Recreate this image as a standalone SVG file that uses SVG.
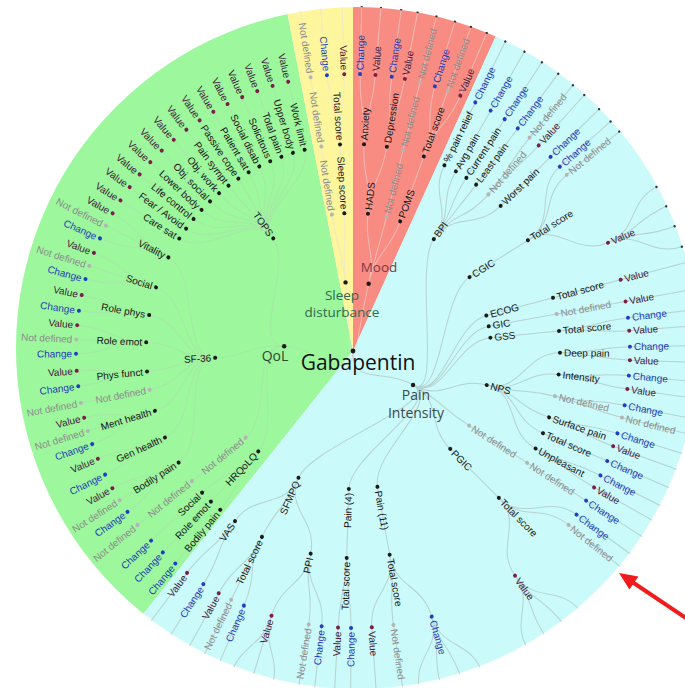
<svg xmlns="http://www.w3.org/2000/svg" xmlns:xlink="http://www.w3.org/1999/xlink" width="685" height="688" viewBox="0 0 685 688">
<defs>
<clipPath id="clipA"><circle cx="357" cy="348" r="341"/></clipPath>
<clipPath id="clipR"><circle cx="4" cy="-3" r="342"/></clipPath>
<path id="s23" d="M138,0H207"/>
<path id="s34" d="M207,0H277"/>
<path id="s45" d="M277,0H345"/>
<path id="A29" d="M207,0C242,0 241.69,-12.24 276.65,-14.01M207,0H277M207,0C242,0 241.69,12.24 276.65,14.01"/>
<path id="B18" d="M207,0C242,0 241.88,-7.6 276.86,-8.7M207,0C242,0 241.88,7.6 276.86,8.7"/>
<path id="A285" d="M207,0C242,0 241.7,-12.03 276.66,-13.77M207,0H277M207,0C242,0 241.7,12.03 276.66,13.77"/>
<path id="B16" d="M207,0C242,0 241.91,-6.76 276.89,-7.73M207,0C242,0 241.91,6.76 276.89,7.73"/>
<path id="A295" d="M207,0C242,0 241.68,-12.45 276.63,-14.25M207,0H277M207,0C242,0 241.68,12.45 276.63,14.25"/>
<path id="B165" d="M207,0C242,0 241.9,-6.97 276.89,-7.97M207,0C242,0 241.9,6.97 276.89,7.97"/>
<path id="B138" d="M207,0C242,0 241.93,-5.83 276.92,-6.67M207,0C242,0 241.93,5.83 276.92,6.67"/>
<path id="A28" d="M207,0C242,0 241.71,-11.82 276.67,-13.53M207,0H277M207,0C242,0 241.71,11.82 276.67,13.53"/>
<path id="B125" d="M207,0C242,0 241.94,-5.28 276.93,-6.04M207,0C242,0 241.94,5.28 276.93,6.04"/>
<path id="B135" d="M207,0C242,0 241.93,-5.7 276.92,-6.53M207,0C242,0 241.93,5.7 276.92,6.53"/>
<path id="B14" d="M207,0C242,0 241.93,-5.91 276.92,-6.77M207,0C242,0 241.93,5.91 276.92,6.77"/>
<path id="B13" d="M207,0C242,0 241.94,-5.49 276.93,-6.28M207,0C242,0 241.94,5.49 276.93,6.28"/>
<path id="B205" d="M207,0C242,0 241.85,-8.66 276.82,-9.91M207,0C242,0 241.85,8.66 276.82,9.91"/>
<path id="F4" d="M277,0C311,0 309.62,-29.27 343.47,-32.47M277,0C311,0 310.85,-9.77 344.83,-10.84M277,0C311,0 310.85,9.77 344.83,10.84M277,0C311,0 309.62,29.27 343.47,32.47"/>
<path id="F3" d="M277,0C311,0 310.39,-19.53 344.32,-21.66M277,0H345M277,0C311,0 310.39,19.53 344.32,21.66"/>
</defs>
<style>
text{font-family:"Liberation Sans",Arial,sans-serif;font-size:10px;dominant-baseline:central}
.L text{text-anchor:end}
.i circle{fill:#1a1a1a}.i text{fill:#161616}
.v circle{fill:#7a2048}.v text{fill:#431a3c}
.c circle{fill:#1f3fc0}.c text{fill:#1f3db5}
.n circle{fill:#b4b4b4}.n text{fill:#8c8c8c}
.lk{fill:none;stroke:#a9b6b6;stroke-width:1;stroke-opacity:.6}
.lk .faint{stroke:#b8c8b8;stroke-opacity:.3}
.lk .warm{stroke:#e8e0e0;stroke-opacity:.55}
.d1{font-family:"Open Sans","Liberation Sans",sans-serif;text-anchor:middle;dominant-baseline:alphabetic;font-size:14px}
.d5 circle{fill:#333}
</style>
<rect width="685" height="688" fill="#ffffff"/>
<g id="sectors" clip-path="url(#clipA)">
<path id="sec-qol" fill="#9df79d" d="M353,351L103.6,663.7A400,400 0 0 1 276.7,-41.7Z"/>
<path id="sec-sleep" fill="#fdf69c" d="M353,351L276.7,-41.7A400,400 0 0 1 353,-49Z"/>
<path id="sec-mood" fill="#f98c82" d="M353,351L353,-49A400,400 0 0 1 518.2,-13.3Z"/>
<path id="sec-pain" fill="#cbfafa" d="M353,351L518.2,-13.3A400,400 0 1 1 103.6,663.7Z"/>
</g>
<g id="tree" transform="translate(353,351)">
<g id="links" class="lk" clip-path="url(#clipR)">
<g id="links-qol" class="faint">
<path d="M0,0C-2.08,34.44 -34.42,-2.41 -68.83,-4.81"/>
<path transform="rotate(184)" d="M69,0C103.5,0 65.68,-79.99 87.57,-106.66M69,0C103.5,0 75.82,-70.45 101.09,-93.94M69,0C103.5,0 102.76,-12.34 137.01,-16.46M69,0C103.5,0 65.61,80.05 87.48,106.73"/>
<path transform="rotate(234.7)" d="M138,0C172.5,0 160.19,-63.99 192.23,-76.79M138,0C172.5,0 163.66,-54.52 196.39,-65.43M138,0C172.5,0 166.56,-44.87 199.88,-53.84M138,0C172.5,0 168.9,-35.05 202.68,-42.06M138,0C172.5,0 170.66,-25.12 204.79,-30.15M138,0C172.5,0 171.84,-15.11 206.2,-18.13M138,0C172.5,0 172.43,-5.04 206.91,-6.05M138,0C172.5,0 172.43,5.04 206.91,6.05M138,0C172.5,0 171.84,15.11 206.2,18.13M138,0C172.5,0 170.66,25.12 204.79,30.15M138,0C172.5,0 168.9,35.05 202.68,42.06M138,0C172.5,0 166.56,44.87 199.88,53.84M138,0C172.5,0 163.66,54.52 196.39,65.43M138,0C172.5,0 160.19,63.99 192.23,76.79"/>
<path transform="rotate(177.15)" d="M138,0C172.5,0 149.76,-85.6 179.72,-102.72M138,0C172.5,0 160.11,-64.2 192.13,-77.04M138,0C172.5,0 167.41,-41.58 200.9,-49.9M138,0C172.5,0 170.84,-23.86 205.01,-28.63M138,0C172.5,0 172.29,-8.58 206.74,-10.29M138,0C172.5,0 171.78,15.78 206.13,18.94M138,0C172.5,0 168.18,38.36 201.82,46.04M138,0C172.5,0 161.31,61.12 193.57,73.34M138,0C172.5,0 149.76,85.6 179.72,102.72"/>
<path transform="rotate(133.35)" d="M138,0C172.5,0 172.19,-10.38 206.63,-12.46M138,0H207M138,0C172.5,0 172.19,10.38 206.63,12.46"/>
<use href="#s23" transform="rotate(141.1)"/>
<use href="#s34" transform="rotate(212.925)"/><use href="#s34" transform="rotate(216.275)"/><use href="#s34" transform="rotate(219.625)"/><use href="#s34" transform="rotate(222.975)"/><use href="#s34" transform="rotate(226.325)"/><use href="#s34" transform="rotate(229.675)"/><use href="#s34" transform="rotate(233.025)"/><use href="#s34" transform="rotate(236.375)"/><use href="#s34" transform="rotate(239.725)"/><use href="#s34" transform="rotate(243.075)"/><use href="#s34" transform="rotate(246.425)"/><use href="#s34" transform="rotate(249.775)"/><use href="#s34" transform="rotate(253.125)"/><use href="#s34" transform="rotate(256.475)"/>
<use href="#s34" transform="rotate(169.2)"/><use href="#s34" transform="rotate(141.1)"/><use href="#s34" transform="rotate(129.9)"/><use href="#s34" transform="rotate(133.35)"/><use href="#s34" transform="rotate(136.8)"/>
<use href="#A29" transform="rotate(147.4)"/><use href="#B18" transform="rotate(155.3)"/><use href="#A285" transform="rotate(163.2)"/><use href="#B16" transform="rotate(174.3)"/><use href="#A295" transform="rotate(182.4)"/><use href="#B165" transform="rotate(190)"/><use href="#A285" transform="rotate(197.9)"/><use href="#A29" transform="rotate(206.9)"/>
</g>
<g id="links-sleep-mood" class="warm">
<path d="M0,0C-2.08,34.44 -3.73,-34.3 -7.45,-68.6M0,0C-2.08,34.44 7.82,-33.6 15.64,-67.2"/>
<path transform="rotate(-96.2)" d="M69,0C103.5,0 103.39,-4.69 137.86,-6.26M69,0C103.5,0 103.39,4.69 137.86,6.26"/>
<path transform="rotate(-76.9)" d="M69,0C103.5,0 102.76,-12.39 137.01,-16.52M69,0C103.5,0 103.49,1.63 137.98,2.17M69,0C103.5,0 102.75,12.43 137,16.58"/>
<path transform="rotate(-83.775)" d="M138,0C172.5,0 172.24,-9.55 206.68,-11.47M138,0C172.5,0 172.24,9.55 206.68,11.47"/>
<use href="#s23" transform="rotate(-98.8)"/><use href="#s23" transform="rotate(-93.6)"/><use href="#s23" transform="rotate(-76)"/><use href="#s23" transform="rotate(-70)"/>
<use href="#s34" transform="rotate(-98.8)"/><use href="#s34" transform="rotate(-76)"/>
<use href="#B18" transform="rotate(-93.6)"/><use href="#B16" transform="rotate(-86.95)"/><use href="#B138" transform="rotate(-80.58)"/><use href="#A28" transform="rotate(-70)"/>
<use href="#s45" transform="rotate(-98.8)"/><use href="#s45" transform="rotate(-95.4)"/><use href="#s45" transform="rotate(-91.8)"/><use href="#s45" transform="rotate(-88.55)"/><use href="#s45" transform="rotate(-85.35)"/><use href="#s45" transform="rotate(-81.96)"/><use href="#s45" transform="rotate(-79.2)"/><use href="#s45" transform="rotate(-76)"/><use href="#s45" transform="rotate(-72.8)"/><use href="#s45" transform="rotate(-70)"/><use href="#s45" transform="rotate(-67.2)"/>
</g>
<g id="links-pain">
<path d="M0,0C-2.08,34.44 30.03,16.99 60.05,33.98"/>
<path transform="rotate(29.5)" d="M69,0C103.5,0 11.45,-102.87 15.26,-137.15M69,0C103.5,0 48.83,-91.26 65.11,-121.68M69,0C103.5,0 73.95,-72.41 98.6,-96.55M69,0C103.5,0 79.52,-66.25 106.02,-88.34M69,0C103.5,0 84.73,-59.44 112.97,-79.25M69,0C103.5,0 99.88,-27.14 133.17,-36.18M69,0C103.5,0 103.34,5.78 137.78,7.7M69,0C103.5,0 99.64,28.01 132.85,37.34M69,0C103.5,0 66.17,79.59 88.22,106.12M69,0C103.5,0 48.19,91.6 64.25,122.13M69,0C103.5,0 11.22,102.89 14.96,137.19"/>
<path transform="rotate(-54.15)" d="M138,0C172.5,0 170.06,-28.92 204.07,-34.7M138,0C172.5,0 171.54,-18.18 205.85,-21.82M138,0C172.5,0 172.32,-7.97 206.78,-9.57M138,0C172.5,0 172.49,1.96 206.99,2.35M138,0C172.5,0 171.84,15.04 206.21,18.04M138,0C172.5,0 170.06,28.92 204.07,34.7"/>
<path transform="rotate(14.3)" d="M138,0C172.5,0 167.52,-41.15 201.02,-49.38M138,0C172.5,0 170.9,-23.41 205.09,-28.09M138,0C172.5,0 172.42,-5.12 206.91,-6.14M138,0C172.5,0 171.99,13.23 206.39,15.88M138,0C172.5,0 170.33,27.28 204.4,32.73M138,0C172.5,0 167.52,41.15 201.02,49.38"/>
<path transform="rotate(113.275)" d="M138,0C172.5,0 169.05,-34.32 202.86,-41.18M138,0C172.5,0 172.29,8.5 206.75,10.2M138,0C172.5,0 169.05,34.32 202.86,41.18"/>
<use href="#s23" transform="rotate(-32.35)"/><use href="#s23" transform="rotate(-14.9)"/><use href="#s23" transform="rotate(-10.3)"/><use href="#s23" transform="rotate(-5.55)"/><use href="#s23" transform="rotate(32.7)"/><use href="#s23" transform="rotate(45.2)"/><use href="#s23" transform="rotate(79.8)"/><use href="#s23" transform="rotate(91.75)"/>
<use href="#s34" transform="rotate(-63.8)"/><use href="#s34" transform="rotate(-60.2)"/><use href="#s34" transform="rotate(-56.8)"/><use href="#s34" transform="rotate(-53.5)"/><use href="#s34" transform="rotate(-44.5)"/><use href="#s34" transform="rotate(-14.9)"/><use href="#s34" transform="rotate(-10.3)"/><use href="#s34" transform="rotate(23.4)"/><use href="#s34" transform="rotate(32.7)"/>
<use href="#B125" transform="rotate(-49.15)"/>
<path transform="rotate(-32.35)" d="M207,0C242,0 238.78,-39.32 273.32,-45M207,0C242,0 240.12,-30.12 274.85,-34.48M207,0C242,0 238.78,39.32 273.32,45"/>
<use href="#B135" transform="rotate(-5.55)"/><use href="#B14" transform="rotate(0.5)"/><use href="#B14" transform="rotate(6.5)"/><use href="#B13" transform="rotate(12.6)"/><use href="#B14" transform="rotate(18.7)"/><use href="#B14" transform="rotate(28.1)"/>
<path transform="rotate(45.2)" d="M207,0C242,0 239.02,-37.86 273.59,-43.33M207,0C242,0 240.54,-26.55 275.33,-30.39M207,0C242,0 239.02,37.86 273.59,43.33"/>
<path transform="rotate(79.8)" d="M207,0C242,0 240.54,-26.55 275.33,-30.39M207,0C242,0 241.88,7.6 276.86,8.7M207,0C242,0 240.54,26.55 275.33,30.39"/>
<use href="#B135" transform="rotate(91.75)"/>
<path transform="rotate(101.8)" d="M207,0C242,0 240.96,-22.35 275.81,-25.59M207,0C242,0 241.75,-10.98 276.71,-12.56M207,0C242,0 240.96,22.35 275.81,25.59"/>
<use href="#A29" transform="rotate(116.1)"/><use href="#B205" transform="rotate(124.75)"/>
<use href="#s45" transform="rotate(-63.8)"/><use href="#s45" transform="rotate(-60.2)"/><use href="#s45" transform="rotate(-56.8)"/><use href="#s45" transform="rotate(-53.5)"/><use href="#s45" transform="rotate(-50.4)"/><use href="#s45" transform="rotate(-47.9)"/><use href="#s45" transform="rotate(-44.5)"/><use href="#s45" transform="rotate(-41.7)"/><use href="#s45" transform="rotate(-39.5)"/><use href="#F4" transform="rotate(-23)"/><use href="#s45" transform="rotate(-14.9)"/><use href="#s45" transform="rotate(-10.3)"/><use href="#s45" transform="rotate(-6.9)"/><use href="#s45" transform="rotate(-4.2)"/><use href="#s45" transform="rotate(-0.9)"/><use href="#s45" transform="rotate(1.9)"/><use href="#s45" transform="rotate(5.1)"/><use href="#s45" transform="rotate(7.9)"/><use href="#s45" transform="rotate(11.3)"/><use href="#s45" transform="rotate(13.9)"/><use href="#s45" transform="rotate(17.3)"/><use href="#s45" transform="rotate(20.1)"/><use href="#s45" transform="rotate(23.4)"/><use href="#s45" transform="rotate(26.7)"/><use href="#s45" transform="rotate(29.5)"/><use href="#s45" transform="rotate(32.7)"/><use href="#s45" transform="rotate(36.2)"/><use href="#s45" transform="rotate(38.9)"/><use href="#F4" transform="rotate(54.2)"/><use href="#F4" transform="rotate(73.5)"/><use href="#s45" transform="rotate(81.6)"/><use href="#s45" transform="rotate(86.1)"/><use href="#s45" transform="rotate(90.4)"/><use href="#s45" transform="rotate(93.1)"/><use href="#s45" transform="rotate(96.5)"/><use href="#s45" transform="rotate(99.2)"/><use href="#F3" transform="rotate(107.1)"/><use href="#s45" transform="rotate(113.2)"/><use href="#s45" transform="rotate(116.1)"/><use href="#s45" transform="rotate(119)"/><use href="#s45" transform="rotate(122.7)"/><use href="#s45" transform="rotate(126.8)"/>
</g>
</g>
<g id="rim-nodes" class="d5" clip-path="url(#clipR)">
<circle transform="rotate(-88.55)" cx="345" r="1.2"/><circle transform="rotate(-85.35)" cx="345" r="1.2"/><circle transform="rotate(-81.96)" cx="345" r="1.2"/><circle transform="rotate(-79.2)" cx="345" r="1.2"/><circle transform="rotate(-76)" cx="345" r="1.2"/><circle transform="rotate(-72.8)" cx="345" r="1.2"/><circle transform="rotate(-70)" cx="345" r="1.2"/><circle transform="rotate(-67.2)" cx="345" r="1.2"/><circle transform="rotate(-63.8)" cx="345" r="1.2"/><circle transform="rotate(-60.2)" cx="345" r="1.2"/><circle transform="rotate(-56.8)" cx="345" r="1.2"/><circle transform="rotate(-53.5)" cx="345" r="1.2"/><circle transform="rotate(-50.4)" cx="345" r="1.2"/><circle transform="rotate(-47.9)" cx="345" r="1.2"/><circle transform="rotate(-44.5)" cx="345" r="1.2"/><circle transform="rotate(-41.7)" cx="345" r="1.2"/><circle transform="rotate(-39.5)" cx="345" r="1.2"/><circle transform="rotate(-28.4)" cx="345" r="1.2"/><circle transform="rotate(-24.8)" cx="345" r="1.2"/><circle transform="rotate(-21.2)" cx="345" r="1.2"/><circle transform="rotate(-17.6)" cx="345" r="1.2"/><circle transform="rotate(-14.9)" cx="345" r="1.2"/><circle transform="rotate(-10.3)" cx="345" r="1.2"/>
</g>
<g id="n-root" class="i"><circle r="2.4"/><text class="d1" x="5" y="19" style="font-size:21px;fill:#111">Gabapentin</text></g>
<g id="n-qol" class="i"><circle cx="-68.83" cy="-4.81" r="2.2"/><text class="d1" x="-78" y="10" style="fill:#2c4a30">QoL</text></g>
<g id="n-sleep" class="i"><circle cx="-7.45" cy="-68.6" r="2.2"/><text class="d1" x="-11" y="-51" style="fill:#2e6a50;font-size:13.5px">Sleep</text><text class="d1" x="-11" y="-34" style="fill:#2e6a50;font-size:13.5px">disturbance</text></g>
<g id="n-mood" class="i"><circle cx="15.64" cy="-67.2" r="2.2"/><text class="d1" x="26" y="-79" style="fill:#7a3a4c;font-size:13.5px">Mood</text></g>
<g id="n-pain" class="i"><circle cx="60.05" cy="33.98" r="2.2"/><text class="d1" x="63" y="49" style="fill:#3c4a4c">Pain</text><text class="d1" x="63" y="67" style="fill:#3c4a4c">Intensity</text></g>
<g id="n-hrqolq" class="i L" transform="rotate(133.35)translate(138)"><circle r="2"/><text x="-4" transform="rotate(180)">HRQoLQ</text></g>
<g id="n-qol-nd" class="n L" transform="rotate(141.1)translate(138)"><circle r="2"/><text x="-4" transform="rotate(180)">Not defined</text></g>
<g id="n-sf36" class="i L" transform="rotate(177.15)translate(138)"><circle r="2"/><text x="-4" transform="rotate(180)">SF-36</text></g>
<g id="n-tops" class="i L" transform="rotate(234.7)translate(138)"><circle r="2"/><text x="-4" transform="rotate(180)">TOPS</text></g>
<g id="n-sleep-nd" class="n L" transform="rotate(-98.8)translate(138)"><circle r="2"/><text x="-4" transform="rotate(180)">Not defined</text></g>
<g id="n-sleepscore" class="i L" transform="rotate(-93.6)translate(138)"><circle r="2"/><text x="-4" transform="rotate(180)">Sleep score</text></g>
<g id="n-hads" class="i" transform="rotate(-83.775)translate(138)"><circle r="2"/><text x="4">HADS</text></g>
<g id="n-mood-nd" class="n" transform="rotate(-76)translate(138)"><circle r="2"/><text x="4">Not defined</text></g>
<g id="n-poms" class="i" transform="rotate(-70)translate(138)"><circle r="2"/><text x="4">POMS</text></g>
<g id="n-bpi" class="i" transform="rotate(-54.15)translate(138)"><circle r="2"/><text x="4">BPI</text></g>
<g id="n-cgic" class="i" transform="rotate(-32.35)translate(138)"><circle r="2"/><text x="4">CGIC</text></g>
<g id="n-ecog" class="i" transform="rotate(-14.9)translate(138)"><circle r="2"/><text x="4">ECOG</text></g>
<g id="n-gic" class="i" transform="rotate(-10.3)translate(138)"><circle r="2"/><text x="4">GIC</text></g>
<g id="n-gss" class="i" transform="rotate(-5.55)translate(138)"><circle r="2"/><text x="4">GSS</text></g>
<g id="n-nps" class="i" transform="rotate(14.3)translate(138)"><circle r="2"/><text x="4">NPS</text></g>
<g id="n-pain-nd" class="n" transform="rotate(32.7)translate(138)"><circle r="2"/><text x="4">Not defined</text></g>
<g id="n-pgic" class="i" transform="rotate(45.2)translate(138)"><circle r="2"/><text x="4">PGIC</text></g>
<g id="n-pain11" class="i" transform="rotate(79.8)translate(138)"><circle r="2"/><text x="4">Pain (11)</text></g>
<g id="n-pain4" class="i L" transform="rotate(91.75)translate(138)"><circle r="2"/><text x="-4" transform="rotate(180)">Pain (4)</text></g>
<g id="n-sfmpq" class="i L" transform="rotate(113.275)translate(138)"><circle r="2"/><text x="-4" transform="rotate(180)">SFMPQ</text></g>
<g id="n-tops-1" class="i L" transform="rotate(212.925)translate(207)"><circle r="2"/><text x="-4" transform="rotate(180)">Care sat</text></g>
<g id="n-tops-2" class="i L" transform="rotate(216.275)translate(207)"><circle r="2"/><text x="-4" transform="rotate(180)">Fear / Avoid</text></g>
<g id="n-tops-3" class="i L" transform="rotate(219.625)translate(207)"><circle r="2"/><text x="-4" transform="rotate(180)">Life control</text></g>
<g id="n-tops-4" class="i L" transform="rotate(222.975)translate(207)"><circle r="2"/><text x="-4" transform="rotate(180)">Lower body</text></g>
<g id="n-tops-5" class="i L" transform="rotate(226.325)translate(207)"><circle r="2"/><text x="-4" transform="rotate(180)">Obj. social</text></g>
<g id="n-tops-6" class="i L" transform="rotate(229.675)translate(207)"><circle r="2"/><text x="-4" transform="rotate(180)">Obj. work</text></g>
<g id="n-tops-7" class="i L" transform="rotate(233.025)translate(207)"><circle r="2"/><text x="-4" transform="rotate(180)">Pain sympt</text></g>
<g id="n-tops-8" class="i L" transform="rotate(236.375)translate(207)"><circle r="2"/><text x="-4" transform="rotate(180)">Passive cope</text></g>
<g id="n-tops-9" class="i L" transform="rotate(239.725)translate(207)"><circle r="2"/><text x="-4" transform="rotate(180)">Patient sat</text></g>
<g id="n-tops-10" class="i L" transform="rotate(243.075)translate(207)"><circle r="2"/><text x="-4" transform="rotate(180)">Social disab</text></g>
<g id="n-tops-11" class="i L" transform="rotate(246.425)translate(207)"><circle r="2"/><text x="-4" transform="rotate(180)">Solicitous</text></g>
<g id="n-tops-12" class="i L" transform="rotate(249.775)translate(207)"><circle r="2"/><text x="-4" transform="rotate(180)">Total pain</text></g>
<g id="n-tops-13" class="i L" transform="rotate(253.125)translate(207)"><circle r="2"/><text x="-4" transform="rotate(180)">Upper body</text></g>
<g id="n-tops-14" class="i L" transform="rotate(256.475)translate(207)"><circle r="2"/><text x="-4" transform="rotate(180)">Work limit</text></g>
<g id="n-tops-1v" class="v L" transform="rotate(212.925)translate(277)"><circle r="2"/><text x="-4" transform="rotate(180)">Value</text></g>
<g id="n-tops-2v" class="v L" transform="rotate(216.275)translate(277)"><circle r="2"/><text x="-4" transform="rotate(180)">Value</text></g>
<g id="n-tops-3v" class="v L" transform="rotate(219.625)translate(277)"><circle r="2"/><text x="-4" transform="rotate(180)">Value</text></g>
<g id="n-tops-4v" class="v L" transform="rotate(222.975)translate(277)"><circle r="2"/><text x="-4" transform="rotate(180)">Value</text></g>
<g id="n-tops-5v" class="v L" transform="rotate(226.325)translate(277)"><circle r="2"/><text x="-4" transform="rotate(180)">Value</text></g>
<g id="n-tops-6v" class="v L" transform="rotate(229.675)translate(277)"><circle r="2"/><text x="-4" transform="rotate(180)">Value</text></g>
<g id="n-tops-7v" class="v L" transform="rotate(233.025)translate(277)"><circle r="2"/><text x="-4" transform="rotate(180)">Value</text></g>
<g id="n-tops-8v" class="v L" transform="rotate(236.375)translate(277)"><circle r="2"/><text x="-4" transform="rotate(180)">Value</text></g>
<g id="n-tops-9v" class="v L" transform="rotate(239.725)translate(277)"><circle r="2"/><text x="-4" transform="rotate(180)">Value</text></g>
<g id="n-tops-10v" class="v L" transform="rotate(243.075)translate(277)"><circle r="2"/><text x="-4" transform="rotate(180)">Value</text></g>
<g id="n-tops-11v" class="v L" transform="rotate(246.425)translate(277)"><circle r="2"/><text x="-4" transform="rotate(180)">Value</text></g>
<g id="n-tops-12v" class="v L" transform="rotate(249.775)translate(277)"><circle r="2"/><text x="-4" transform="rotate(180)">Value</text></g>
<g id="n-tops-13v" class="v L" transform="rotate(253.125)translate(277)"><circle r="2"/><text x="-4" transform="rotate(180)">Value</text></g>
<g id="n-tops-14v" class="v L" transform="rotate(256.475)translate(277)"><circle r="2"/><text x="-4" transform="rotate(180)">Value</text></g>
<g id="n-sf-bp" class="i L" transform="rotate(147.4)translate(207)"><circle r="2"/><text x="-4" transform="rotate(180)">Bodily pain</text></g>
<g id="n-sf-gh" class="i L" transform="rotate(155.3)translate(207)"><circle r="2"/><text x="-4" transform="rotate(180)">Gen health</text></g>
<g id="n-sf-mh" class="i L" transform="rotate(163.2)translate(207)"><circle r="2"/><text x="-4" transform="rotate(180)">Ment health</text></g>
<g id="n-sf-nd" class="n L" transform="rotate(169.2)translate(207)"><circle r="2"/><text x="-4" transform="rotate(180)">Not defined</text></g>
<g id="n-sf-pf" class="i L" transform="rotate(174.3)translate(207)"><circle r="2"/><text x="-4" transform="rotate(180)">Phys funct</text></g>
<g id="n-sf-re" class="i L" transform="rotate(182.4)translate(207)"><circle r="2"/><text x="-4" transform="rotate(180)">Role emot</text></g>
<g id="n-sf-rp" class="i L" transform="rotate(190)translate(207)"><circle r="2"/><text x="-4" transform="rotate(180)">Role phys</text></g>
<g id="n-sf-so" class="i L" transform="rotate(197.9)translate(207)"><circle r="2"/><text x="-4" transform="rotate(180)">Social</text></g>
<g id="n-sf-vi" class="i L" transform="rotate(206.9)translate(207)"><circle r="2"/><text x="-4" transform="rotate(180)">Vitality</text></g>
<g id="n-q-nd2" class="n L" transform="rotate(141.1)translate(207)"><circle r="2"/><text x="-4" transform="rotate(180)">Not defined</text></g>
<g id="n-hr-bp" class="i L" transform="rotate(129.9)translate(207)"><circle r="2"/><text x="-4" transform="rotate(180)">Bodily pain</text></g>
<g id="n-hr-re" class="i L" transform="rotate(133.35)translate(207)"><circle r="2"/><text x="-4" transform="rotate(180)">Role emot</text></g>
<g id="n-hr-so" class="i L" transform="rotate(136.8)translate(207)"><circle r="2"/><text x="-4" transform="rotate(180)">Social</text></g>
<g id="n-s-nd2" class="n L" transform="rotate(-98.8)translate(207)"><circle r="2"/><text x="-4" transform="rotate(180)">Not defined</text></g>
<g id="n-s-ts" class="i L" transform="rotate(-93.6)translate(207)"><circle r="2"/><text x="-4" transform="rotate(180)">Total score</text></g>
<g id="n-m-anx" class="i" transform="rotate(-86.95)translate(207)"><circle r="2"/><text x="4">Anxiety</text></g>
<g id="n-m-dep" class="i" transform="rotate(-80.58)translate(207)"><circle r="2"/><text x="4">Depression</text></g>
<g id="n-m-nd2" class="n" transform="rotate(-76)translate(207)"><circle r="2"/><text x="4">Not defined</text></g>
<g id="n-m-ts" class="i" transform="rotate(-70)translate(207)"><circle r="2"/><text x="4">Total score</text></g>
<g id="n-bpi-1" class="i" transform="rotate(-63.8)translate(207)"><circle r="2"/><text x="4">% pain relief</text></g>
<g id="n-bpi-2" class="i" transform="rotate(-60.2)translate(207)"><circle r="2"/><text x="4">Avg pain</text></g>
<g id="n-bpi-3" class="i" transform="rotate(-56.8)translate(207)"><circle r="2"/><text x="4">Current pain</text></g>
<g id="n-bpi-4" class="i" transform="rotate(-53.5)translate(207)"><circle r="2"/><text x="4">Least pain</text></g>
<g id="n-bpi-5" class="n" transform="rotate(-49.15)translate(207)"><circle r="2"/><text x="4">Not defined</text></g>
<g id="n-bpi-6" class="i" transform="rotate(-44.5)translate(207)"><circle r="2"/><text x="4">Worst pain</text></g>
<g id="n-cgic-ts" class="i" transform="rotate(-32.35)translate(207)"><circle r="2"/><text x="4">Total score</text></g>
<g id="n-ecog-ts" class="i" transform="rotate(-14.9)translate(207)"><circle r="2"/><text x="4">Total score</text></g>
<g id="n-gic-nd" class="n" transform="rotate(-10.3)translate(207)"><circle r="2"/><text x="4">Not defined</text></g>
<g id="n-gss-ts" class="i" transform="rotate(-5.55)translate(207)"><circle r="2"/><text x="4">Total score</text></g>
<g id="n-nps-1" class="i" transform="rotate(0.5)translate(207)"><circle r="2"/><text x="4">Deep pain</text></g>
<g id="n-nps-2" class="i" transform="rotate(6.5)translate(207)"><circle r="2"/><text x="4">Intensity</text></g>
<g id="n-nps-3" class="n" transform="rotate(12.6)translate(207)"><circle r="2"/><text x="4">Not defined</text></g>
<g id="n-nps-4" class="i" transform="rotate(18.7)translate(207)"><circle r="2"/><text x="4">Surface pain</text></g>
<g id="n-nps-5" class="i" transform="rotate(23.4)translate(207)"><circle r="2"/><text x="4">Total score</text></g>
<g id="n-nps-6" class="i" transform="rotate(28.1)translate(207)"><circle r="2"/><text x="4">Unpleasant</text></g>
<g id="n-p-nd2" class="n" transform="rotate(32.7)translate(207)"><circle r="2"/><text x="4">Not defined</text></g>
<g id="n-pgic-ts" class="i" transform="rotate(45.2)translate(207)"><circle r="2"/><text x="4">Total score</text></g>
<g id="n-p11-ts" class="i" transform="rotate(79.8)translate(207)"><circle r="2"/><text x="4">Total score</text></g>
<g id="n-p4-ts" class="i L" transform="rotate(91.75)translate(207)"><circle r="2"/><text x="-4" transform="rotate(180)">Total score</text></g>
<g id="n-sfm-ppi" class="i L" transform="rotate(101.8)translate(207)"><circle r="2"/><text x="-4" transform="rotate(180)">PPI</text></g>
<g id="n-sfm-ts" class="i L" transform="rotate(116.1)translate(207)"><circle r="2"/><text x="-4" transform="rotate(180)">Total score</text></g>
<g id="n-sfm-vas" class="i L" transform="rotate(124.75)translate(207)"><circle r="2"/><text x="-4" transform="rotate(180)">VAS</text></g>
<g id="l-g01" class="c L" transform="rotate(144.5)translate(277)"><circle r="2"/><text x="-4" transform="rotate(180)">Change</text></g>
<g id="l-g02" class="n L" transform="rotate(147.4)translate(277)"><circle r="2"/><text x="-4" transform="rotate(180)">Not defined</text></g>
<g id="l-g03" class="v L" transform="rotate(150.3)translate(277)"><circle r="2"/><text x="-4" transform="rotate(180)">Value</text></g>
<g id="l-g04" class="c L" transform="rotate(153.5)translate(277)"><circle r="2"/><text x="-4" transform="rotate(180)">Change</text></g>
<g id="l-g05" class="v L" transform="rotate(157.1)translate(277)"><circle r="2"/><text x="-4" transform="rotate(180)">Value</text></g>
<g id="l-g06" class="c L" transform="rotate(160.35)translate(277)"><circle r="2"/><text x="-4" transform="rotate(180)">Change</text></g>
<g id="l-g07" class="n L" transform="rotate(163.2)translate(277)"><circle r="2"/><text x="-4" transform="rotate(180)">Not defined</text></g>
<g id="l-g08" class="v L" transform="rotate(166.05)translate(277)"><circle r="2"/><text x="-4" transform="rotate(180)">Value</text></g>
<g id="l-g09" class="n L" transform="rotate(169.2)translate(277)"><circle r="2"/><text x="-4" transform="rotate(180)">Not defined</text></g>
<g id="l-g10" class="c L" transform="rotate(172.7)translate(277)"><circle r="2"/><text x="-4" transform="rotate(180)">Change</text></g>
<g id="l-g11" class="v L" transform="rotate(175.9)translate(277)"><circle r="2"/><text x="-4" transform="rotate(180)">Value</text></g>
<g id="l-g12" class="c L" transform="rotate(179.45)translate(277)"><circle r="2"/><text x="-4" transform="rotate(180)">Change</text></g>
<g id="l-g13" class="n L" transform="rotate(182.4)translate(277)"><circle r="2"/><text x="-4" transform="rotate(180)">Not defined</text></g>
<g id="l-g14" class="v L" transform="rotate(185.35)translate(277)"><circle r="2"/><text x="-4" transform="rotate(180)">Value</text></g>
<g id="l-g15" class="c L" transform="rotate(188.35)translate(277)"><circle r="2"/><text x="-4" transform="rotate(180)">Change</text></g>
<g id="l-g16" class="v L" transform="rotate(191.65)translate(277)"><circle r="2"/><text x="-4" transform="rotate(180)">Value</text></g>
<g id="l-g17" class="c L" transform="rotate(195.05)translate(277)"><circle r="2"/><text x="-4" transform="rotate(180)">Change</text></g>
<g id="l-g18" class="n L" transform="rotate(197.9)translate(277)"><circle r="2"/><text x="-4" transform="rotate(180)">Not defined</text></g>
<g id="l-g19" class="v L" transform="rotate(200.75)translate(277)"><circle r="2"/><text x="-4" transform="rotate(180)">Value</text></g>
<g id="l-g20" class="c L" transform="rotate(204)translate(277)"><circle r="2"/><text x="-4" transform="rotate(180)">Change</text></g>
<g id="l-g21" class="n L" transform="rotate(206.9)translate(277)"><circle r="2"/><text x="-4" transform="rotate(180)">Not defined</text></g>
<g id="l-g22" class="v L" transform="rotate(209.8)translate(277)"><circle r="2"/><text x="-4" transform="rotate(180)">Value</text></g>
<g id="l-g23" class="n L" transform="rotate(141.1)translate(277)"><circle r="2"/><text x="-4" transform="rotate(180)">Not defined</text></g>
<g id="l-g24" class="c L" transform="rotate(129.9)translate(277)"><circle r="2"/><text x="-4" transform="rotate(180)">Change</text></g>
<g id="l-g25" class="c L" transform="rotate(133.35)translate(277)"><circle r="2"/><text x="-4" transform="rotate(180)">Change</text></g>
<g id="l-g26" class="c L" transform="rotate(136.8)translate(277)"><circle r="2"/><text x="-4" transform="rotate(180)">Change</text></g>
<g id="l-y1" class="n L" transform="rotate(-98.8)translate(277)"><circle r="2"/><text x="-4" transform="rotate(180)">Not defined</text></g>
<g id="l-y2" class="c L" transform="rotate(-95.4)translate(277)"><circle r="2"/><text x="-4" transform="rotate(180)">Change</text></g>
<g id="l-y3" class="v L" transform="rotate(-91.8)translate(277)"><circle r="2"/><text x="-4" transform="rotate(180)">Value</text></g>
<g id="l-r1" class="c" transform="rotate(-88.55)translate(277)"><circle r="2"/><text x="4">Change</text></g>
<g id="l-r2" class="v" transform="rotate(-85.35)translate(277)"><circle r="2"/><text x="4">Value</text></g>
<g id="l-r3" class="c" transform="rotate(-81.96)translate(277)"><circle r="2"/><text x="4">Change</text></g>
<g id="l-r4" class="v" transform="rotate(-79.2)translate(277)"><circle r="2"/><text x="4">Value</text></g>
<g id="l-r5" class="n" transform="rotate(-76)translate(277)"><circle r="2"/><text x="4">Not defined</text></g>
<g id="l-r6" class="c" transform="rotate(-72.8)translate(277)"><circle r="2"/><text x="4">Change</text></g>
<g id="l-r7" class="n" transform="rotate(-70)translate(277)"><circle r="2"/><text x="4">Not defined</text></g>
<g id="l-r8" class="v" transform="rotate(-67.2)translate(277)"><circle r="2"/><text x="4">Value</text></g>
<g id="l-c01" class="c" transform="rotate(-63.8)translate(277)"><circle r="2"/><text x="4">Change</text></g>
<g id="l-c02" class="c" transform="rotate(-60.2)translate(277)"><circle r="2"/><text x="4">Change</text></g>
<g id="l-c03" class="c" transform="rotate(-56.8)translate(277)"><circle r="2"/><text x="4">Change</text></g>
<g id="l-c04" class="c" transform="rotate(-53.5)translate(277)"><circle r="2"/><text x="4">Change</text></g>
<g id="l-c05" class="n" transform="rotate(-50.4)translate(277)"><circle r="2"/><text x="4">Not defined</text></g>
<g id="l-c06" class="v" transform="rotate(-47.9)translate(277)"><circle r="2"/><text x="4">Value</text></g>
<g id="l-c07" class="c" transform="rotate(-44.5)translate(277)"><circle r="2"/><text x="4">Change</text></g>
<g id="l-c08" class="c" transform="rotate(-41.7)translate(277)"><circle r="2"/><text x="4">Change</text></g>
<g id="l-c09" class="n" transform="rotate(-39.5)translate(277)"><circle r="2"/><text x="4">Not defined</text></g>
<g id="l-c10" class="v" transform="rotate(-23)translate(277)"><circle r="2"/><text x="4">Value</text></g>
<g id="l-c11" class="v" transform="rotate(-14.9)translate(277)"><circle r="2"/><text x="4">Value</text></g>
<g id="l-c12" class="v" transform="rotate(-10.3)translate(277)"><circle r="2"/><text x="4">Value</text></g>
<g id="l-c13" class="c" transform="rotate(-6.9)translate(277)"><circle r="2"/><text x="4">Change</text></g>
<g id="l-c14" class="v" transform="rotate(-4.2)translate(277)"><circle r="2"/><text x="4">Value</text></g>
<g id="l-c15" class="c" transform="rotate(-0.9)translate(277)"><circle r="2"/><text x="4">Change</text></g>
<g id="l-c16" class="v" transform="rotate(1.9)translate(277)"><circle r="2"/><text x="4">Value</text></g>
<g id="l-c17" class="c" transform="rotate(5.1)translate(277)"><circle r="2"/><text x="4">Change</text></g>
<g id="l-c18" class="v" transform="rotate(7.9)translate(277)"><circle r="2"/><text x="4">Value</text></g>
<g id="l-c19" class="c" transform="rotate(11.3)translate(277)"><circle r="2"/><text x="4">Change</text></g>
<g id="l-c20" class="n" transform="rotate(13.9)translate(277)"><circle r="2"/><text x="4">Not defined</text></g>
<g id="l-c21" class="c" transform="rotate(17.3)translate(277)"><circle r="2"/><text x="4">Change</text></g>
<g id="l-c22" class="v" transform="rotate(20.1)translate(277)"><circle r="2"/><text x="4">Value</text></g>
<g id="l-c23" class="c" transform="rotate(23.4)translate(277)"><circle r="2"/><text x="4">Change</text></g>
<g id="l-c24" class="c" transform="rotate(26.7)translate(277)"><circle r="2"/><text x="4">Change</text></g>
<g id="l-c25" class="v" transform="rotate(29.5)translate(277)"><circle r="2"/><text x="4">Value</text></g>
<g id="l-c26" class="c" transform="rotate(32.7)translate(277)"><circle r="2"/><text x="4">Change</text></g>
<g id="l-c27" class="c" transform="rotate(36.2)translate(277)"><circle r="2"/><text x="4">Change</text></g>
<g id="l-c28" class="n" transform="rotate(38.9)translate(277)"><circle r="2"/><text x="4">Not defined</text></g>
<g id="l-c29" class="v" transform="rotate(54.2)translate(277)"><circle r="2"/><text x="4">Value</text></g>
<g id="l-c30" class="c" transform="rotate(73.5)translate(277)"><circle r="2"/><text x="4">Change</text></g>
<g id="l-c31" class="n" transform="rotate(81.6)translate(277)"><circle r="2"/><text x="4">Not defined</text></g>
<g id="l-c32" class="v" transform="rotate(86.1)translate(277)"><circle r="2"/><text x="4">Value</text></g>
<g id="l-c33" class="c L" transform="rotate(90.4)translate(277)"><circle r="2"/><text x="-4" transform="rotate(180)">Change</text></g>
<g id="l-c34" class="v L" transform="rotate(93.1)translate(277)"><circle r="2"/><text x="-4" transform="rotate(180)">Value</text></g>
<g id="l-c35" class="c L" transform="rotate(96.5)translate(277)"><circle r="2"/><text x="-4" transform="rotate(180)">Change</text></g>
<g id="l-c36" class="n L" transform="rotate(99.2)translate(277)"><circle r="2"/><text x="-4" transform="rotate(180)">Not defined</text></g>
<g id="l-c37" class="v L" transform="rotate(107.1)translate(277)"><circle r="2"/><text x="-4" transform="rotate(180)">Value</text></g>
<g id="l-c38" class="c L" transform="rotate(113.2)translate(277)"><circle r="2"/><text x="-4" transform="rotate(180)">Change</text></g>
<g id="l-c39" class="n L" transform="rotate(116.1)translate(277)"><circle r="2"/><text x="-4" transform="rotate(180)">Not defined</text></g>
<g id="l-c40" class="v L" transform="rotate(119)translate(277)"><circle r="2"/><text x="-4" transform="rotate(180)">Value</text></g>
<g id="l-c41" class="c L" transform="rotate(122.7)translate(277)"><circle r="2"/><text x="-4" transform="rotate(180)">Change</text></g>
<g id="l-c42" class="v L" transform="rotate(126.8)translate(277)"><circle r="2"/><text x="-4" transform="rotate(180)">Value</text></g>
</g>
<g id="arrow"><line x1="686" y1="618" x2="633" y2="582.5" stroke="#ee1c1c" stroke-width="4"/><polygon points="619,573 638.4,576.4 629.4,589.6" fill="#ee1c1c"/></g>
</svg>
